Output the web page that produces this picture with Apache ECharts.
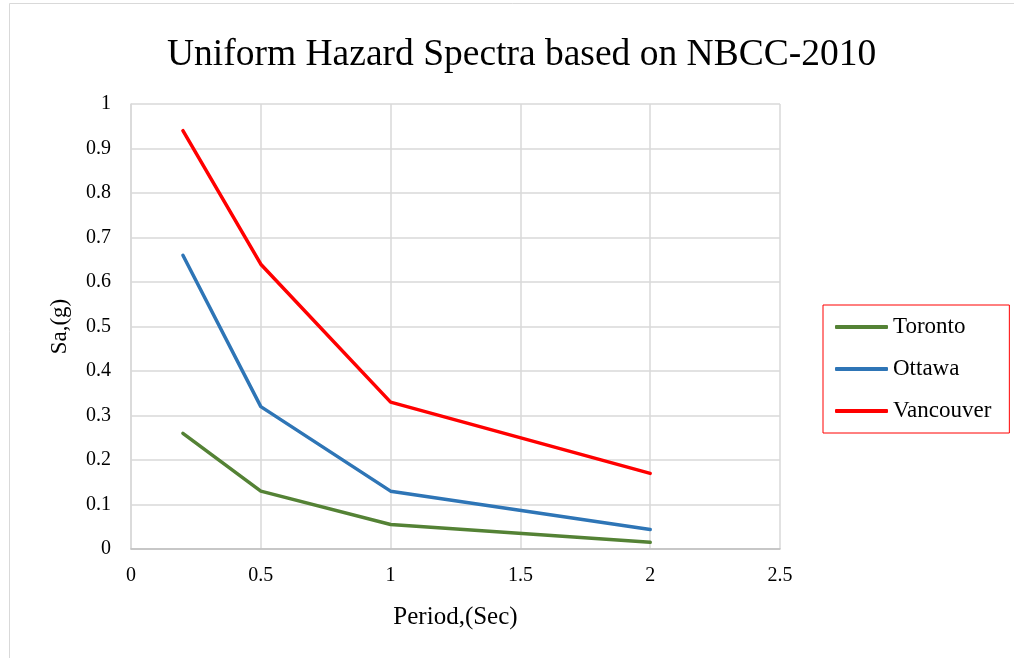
<!DOCTYPE html>
<html>
<head>
<meta charset="utf-8">
<script src="https://cdn.jsdelivr.net/npm/echarts@6/dist/echarts.min.js"></script>
<style>
  html, body { margin: 0; padding: 0; background: #fff; }
  #chart { width: 1014px; height: 658px; }
</style>
</head>
<body>
<div id="chart"></div>
<script>
const periods = [0.2, 0.5, 1, 2];
const toronto = [0.26, 0.13, 0.055, 0.015];
const ottawa = [0.66, 0.32, 0.13, 0.044];
const vancouver = [0.94, 0.64, 0.33, 0.17];
const seriesNames = ['Toronto', 'Ottawa', 'Vancouver'];
const seriesColors = ['#548235', '#2E75B6', '#FF0000'];

const chart = echarts.init(document.getElementById('chart'));
const font = '"Liberation Serif", "Times New Roman", serif';

function pairs(ys) {
  return periods.map((x, i) => [x, ys[i]]);
}

const lineData = [toronto, ottawa, vancouver];

chart.setOption({
  animation: false,
  backgroundColor: '#fff',
  textStyle: { fontFamily: font },
  graphic: [{
    type: 'rect',
    shape: { x: 9.5, y: 3.5, width: 1020, height: 700 },
    style: { fill: 'none', stroke: '#d9d9d9', lineWidth: 1 },
    silent: true
  }],
  title: {
    text: 'Uniform Hazard Spectra based on NBCC-2010',
    left: 162,
    top: 31,
    textStyle: { fontFamily: font, fontSize: 37.5, fontWeight: 'normal', color: '#000' }
  },
  legend: {
    orient: 'vertical',
    left: 823,
    top: 305,
    padding: [10, 18, 10, 12],
    itemGap: 18,
    itemWidth: 53,
    itemHeight: 4,
    icon: 'roundRect',
    borderColor: '#FF0000',
    borderWidth: 1,
    data: seriesNames,
    textStyle: { fontFamily: font, fontSize: 23, color: '#000', lineHeight: 24 }
  },
  grid: { left: 131, right: 234, top: 104, bottom: 109, containLabel: false },
  xAxis: {
    type: 'value',
    min: 0, max: 2.5, interval: 0.5,
    name: 'Period,(Sec)',
    nameLocation: 'middle',
    nameGap: 56,
    nameTextStyle: { fontFamily: font, fontSize: 25, color: '#000' },
    axisLine: { show: true, lineStyle: { color: '#bfbfbf', width: 1.5 } },
    axisTick: { show: false },
    axisLabel: { fontFamily: font, fontSize: 20, color: '#000', margin: 17 },
    splitLine: { show: true, lineStyle: { color: '#d9d9d9', width: 1.5 } }
  },
  yAxis: {
    type: 'value',
    min: 0, max: 1, interval: 0.1,
    name: 'Sa,(g)',
    nameLocation: 'middle',
    nameGap: 60,
    nameRotate: 90,
    nameTextStyle: { fontFamily: font, fontSize: 23, color: '#000' },
    axisLine: { show: true, lineStyle: { color: '#d9d9d9', width: 1.5 } },
    axisTick: { show: false },
    axisLabel: { fontFamily: font, fontSize: 20, color: '#000', margin: 20 },
    splitLine: { show: true, lineStyle: { color: '#d9d9d9', width: 1.5 } }
  },
  series: seriesNames.map((name, i) => ({
    name: name,
    type: 'line',
    data: pairs(lineData[i]),
    showSymbol: false,
    symbol: 'none',
    color: seriesColors[i],
    lineStyle: { color: seriesColors[i], width: 3.5, cap: 'round', join: 'round' }
  }))
});
</script>
</body>
</html>
